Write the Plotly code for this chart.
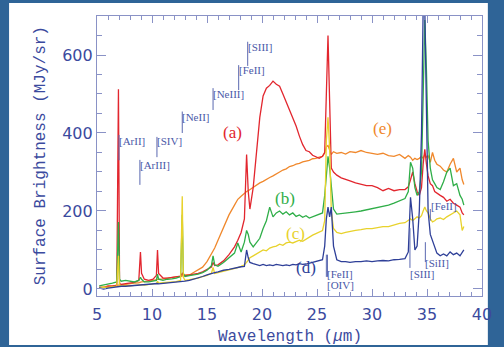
import plotly.graph_objects as go

# ---------------- data ----------------
wl = [5.2, 5.6, 6.0, 6.4, 6.8, 6.95, 7.05, 7.2, 7.6, 8.0, 8.4, 8.8, 8.95, 9.05, 9.3, 9.7,
      10.1, 10.4, 10.5, 10.6, 11.0, 11.4, 11.8, 12.2, 12.6, 12.75, 12.85, 13.0, 13.4, 13.8,
      14.2, 14.6, 15.0, 15.4, 15.55, 15.7, 16.0, 16.5, 17.0, 17.5, 17.8, 18.1, 18.4, 18.6,
      18.75, 18.9, 19.2, 19.5, 19.8, 20.1, 20.4, 20.7, 21.0, 21.3, 21.6, 21.9, 22.2, 22.5,
      22.8, 23.1, 23.4, 23.7, 24.0, 24.3, 24.6, 24.9, 25.2, 25.5, 25.7, 25.85, 26.0, 26.15,
      26.3, 26.5, 26.8, 27.2, 27.6, 28.0, 28.5, 29.0, 29.5, 30.0, 30.5, 31.0, 31.5, 32.0,
      32.5, 33.0, 33.3, 33.5, 33.7, 33.9, 34.1, 34.3, 34.5, 34.65, 34.8, 34.95, 35.1, 35.3,
      35.5, 35.7, 35.9, 36.2, 36.5, 36.8, 37.1, 37.4, 37.7, 38.0, 38.2, 38.35]

spec_a = [5, 4, 8, 7, 10, 512, 14, 12, 14, 15, 17, 22, 95, 40, 25, 22,
          25, 35, 100, 40, 28, 28, 30, 31, 33, 40, 35, 34, 36, 38,
          40, 44, 50, 56, 68, 60, 62, 72, 88, 108, 125, 145, 180, 345,
          250, 205, 260, 360, 440, 495, 515, 522, 533, 525, 520, 500, 480, 462,
          440, 418, 392, 370, 355, 352, 343, 340, 335, 340, 350, 500, 650, 480,
          310, 300, 292, 285, 280, 277, 272, 268, 265, 265, 260, 252, 258, 252,
          255, 255, 262, 280, 300, 270, 250, 240, 260, 320, 358, 320, 290, 270,
          265, 250, 245, 240, 235, 225, 230, 220, 215, 210, 195, 190]

spec_b = [8, 10, 12, 15, 18, 172, 25, 20, 22, 20, 18, 22, 30, 25, 18, 18,
          20, 22, 38, 25, 22, 25, 26, 28, 32, 190, 40, 32, 34, 36,
          38, 42, 48, 60, 85, 62, 58, 68, 80, 92, 118, 95, 120, 150,
          140, 120, 108, 118, 130, 155, 175, 210, 185, 195, 200, 192, 198, 190,
          195, 186, 190, 184, 188, 182, 185, 188, 190, 195, 240, 300, 340, 310,
          260, 205, 192, 193, 195, 195, 198, 200, 203, 205, 208, 212, 215, 220,
          225, 232, 250, 325, 310, 260, 240, 250, 300, 500, 690, 560, 380, 310,
          280, 270, 260, 255, 275, 300, 310, 265, 270, 240, 230, 215]

spec_c = [2, 5, 4, 6, 7, 85, 10, 8, 9, 8, 9, 10, 12, 11, 10, 12,
          13, 14, 20, 15, 16, 17, 18, 19, 22, 238, 30, 22, 24, 26,
          28, 32, 35, 40, 55, 40, 42, 45, 48, 52, 55, 58, 62, 68,
          75, 80, 85, 90, 95, 100, 98, 105, 108, 110, 115, 112, 118, 120,
          118, 122, 125, 122, 128, 132, 138, 142, 145, 150, 175, 380, 440, 360,
          200, 155, 145, 142, 145, 148, 150, 152, 155, 155, 158, 160, 160, 165,
          168, 170, 175, 180, 175, 180, 185, 182, 188, 200, 210, 200, 195, 180,
          172, 175, 180, 182, 178, 185, 190, 195, 200, 190, 150, 160]

spec_d = [3, 0, 2, 4, 5, 6, 6, 7, 7, 8, 9, 10, 11, 10, 10, 11,
          12, 13, 14, 13, 14, 15, 16, 17, 18, 20, 19, 20, 22, 25,
          28, 32, 36, 40, 42, 42, 44, 48, 50, 54, 55, 57, 58, 100,
          80, 68, 65, 62, 60, 63, 60, 62, 60, 63, 61, 60, 62, 60,
          63, 62, 65, 63, 64, 66, 68, 70, 72, 75, 110, 180, 210, 185,
          210, 110, 75, 70, 70, 68, 70, 70, 72, 70, 72, 73, 72, 75,
          76, 78, 95, 235, 180, 100, 110, 200, 400, 720, 720, 400, 200, 140,
          125, 105, 92, 85, 90, 85, 95, 88, 92, 85, 95, 100]

spec_e = [3, 5, 6, 8, 9, 10, 10, 11, 12, 14, 15, 16, 18, 18, 19, 20,
          22, 24, 25, 25, 26, 28, 30, 31, 32, 34, 34, 36, 36, 42,
          48, 56, 70, 88, 95, 105, 125, 160, 190, 215, 230, 238, 246, 250,
          252, 255, 262, 268, 272, 276, 282, 286, 290, 296, 300, 305, 308, 314,
          316, 320, 322, 326, 328, 330, 334, 335, 338, 340, 350, 365, 368, 355,
          345, 352, 348, 350, 346, 352, 350, 355, 350, 348, 345, 348, 342, 340,
          345, 335, 342, 338, 330, 335, 332, 335, 340, 335, 345, 338, 342, 325,
          350, 330, 320, 315, 305, 300, 320, 335, 300, 310, 280, 268]

series_names = ["(e)", "(a)", "(b)", "(c)", "(d)"]
series_data = [spec_e, spec_a, spec_b, spec_c, spec_d]
series_colors = ["#f0882c", "#e2262e", "#2fae48", "#e8d22c", "#2e3f98"]
label_x = [30.95, 17.3, 22.05, 23.0, 24.0]
label_y = [412, 400, 233, 143, 55]

# emission-line markers: name, wavelength, line bottom, line top, label x, label y
line_names = ["[ArII]", "[ArIII]", "[SIV]", "[NeII]", "[NeIII]", "[FeII]", "[SIII]",
              "[FeII]", "[OIV]", "[SIII]", "[SiII]", "[FeII]"]
line_wl = [7.0, 8.9, 10.45, 12.75, 15.55, 17.88, 18.7, 25.95, 25.85, 33.45, 34.85, 35.3]
line_lo = [330, 267, 338, 400, 459, 510, 572, 31, 31, 54, 69, 175]
line_hi = [395, 331, 390, 455, 515, 574, 634, 88, 88, 156, 120, 205]
lab_x = [7.0, 8.9, 10.45, 12.75, 15.55, 17.88, 18.7, 25.95, 25.9, 33.45, 34.85, 35.4]
lab_y = [380, 318, 379, 440, 500, 561, 621, 38, 11, 38, 67, 214]

# ---------------- figure ----------------
TXT = "#3b4a9e"
AX = "#8a92c6"
fig = go.Figure()

for name, ys, col in zip(series_names, series_data, series_colors):
    fig.add_trace(go.Scatter(x=wl, y=ys, mode="lines", name=name,
                             line=dict(color=col, width=1.3, shape="linear"),
                             showlegend=False, hoverinfo="skip"))

for name, col, lx, ly in zip(series_names, series_colors, label_x, label_y):
    fig.add_annotation(x=lx, y=ly, text=name, showarrow=False,
                       font=dict(family="Liberation Serif", size=17, color=col))

for nm, x0, lo, hi, tx, ty in zip(line_names, line_wl, line_lo, line_hi, lab_x, lab_y):
    fig.add_shape(type="line", x0=x0, x1=x0, y0=lo, y1=hi, xref="x", yref="y",
                  line=dict(color="#5a68b0", width=1))
    fig.add_annotation(x=tx, y=ty, text=nm, showarrow=False, xanchor="left",
                       yanchor="middle", borderpad=0, xshift=-1,
                       font=dict(family="Liberation Serif", size=11, color="#4a58a8"))

# axis titles
fig.add_annotation(xref="paper", yref="paper", x=0.5, y=-0.145, text="Wavelength (<i>μ</i>m)",
                   showarrow=False, yanchor="middle",
                   font=dict(family="Liberation Mono", size=16, color=TXT))
fig.add_annotation(xref="paper", yref="paper", x=-0.1447, y=0.5, text="Surface Brightness (MJy/sr)",
                   showarrow=False, textangle=-90, xanchor="center", yanchor="middle",
                   font=dict(family="Liberation Mono", size=16, color=TXT))

# white card over the blue frame
fig.add_shape(type="rect", xref="paper", yref="paper",
              x0=-0.2284, x1=1.0152, y0=-0.175, y1=1.0464,
              fillcolor="white", line=dict(width=0), layer="below")

fig.update_layout(
    width=504, height=347,
    margin=dict(l=97, r=13, t=16, b=51),
    paper_bgcolor="#2f6497", plot_bgcolor="white",
    font=dict(family="DejaVu Sans", color=TXT),
)
fig.update_xaxes(range=[5, 40], tick0=5, dtick=5, ticks="inside", ticklen=7,
                 tickcolor=AX, showline=True, linecolor=AX, linewidth=1.2,
                 mirror="ticks", showgrid=False, zeroline=False,
                 tickfont=dict(family="DejaVu Sans", size=16, color=TXT),
                 ticklabelstandoff=4,
                 minor=dict(dtick=1, ticks="inside", ticklen=4, tickcolor=AX))
fig.update_yaxes(range=[-18, 700], tick0=0, dtick=200, ticks="inside", ticklen=9,
                 tickcolor=AX, showline=True, linecolor=AX, linewidth=1.2,
                 mirror="ticks", showgrid=False, zeroline=False,
                 tickfont=dict(family="DejaVu Sans", size=16, color=TXT),
                 minor=dict(dtick=50, ticks="inside", ticklen=5, tickcolor=AX))

fig.write_html("out.html")
